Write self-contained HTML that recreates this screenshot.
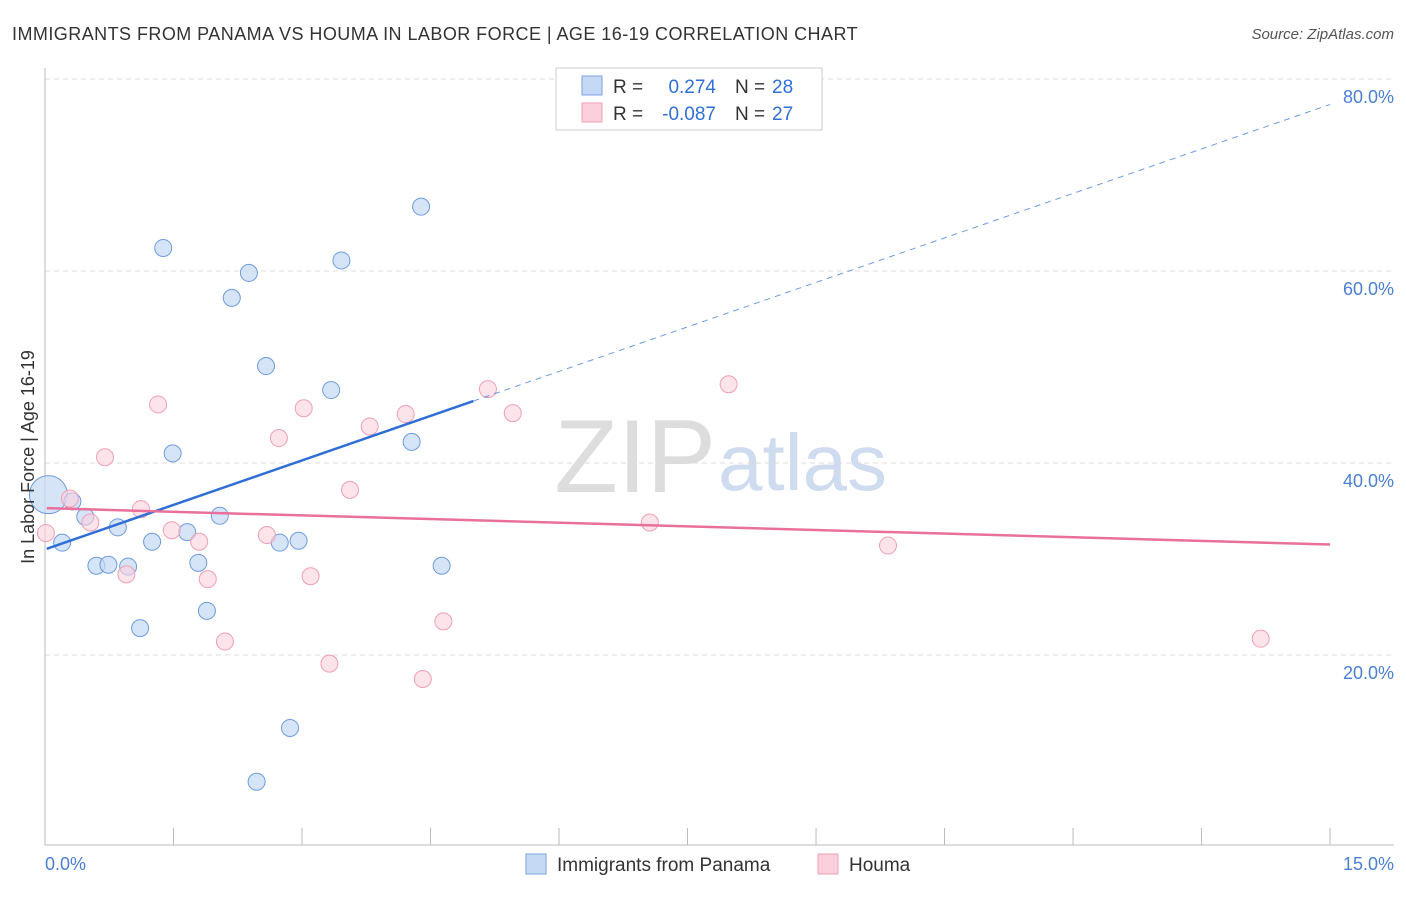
<!DOCTYPE html>
<html><head><meta charset="utf-8"><style>
body{margin:0;background:#fff;font-family:"Liberation Sans",sans-serif;}
svg text{font-family:"Liberation Sans",sans-serif;}
</style></head><body>
<svg id="c" width="1406" height="892" xmlns="http://www.w3.org/2000/svg">
<text x="12" y="40" font-size="18" letter-spacing="0.45" fill="#333">IMMIGRANTS FROM PANAMA VS HOUMA IN LABOR FORCE | AGE 16-19 CORRELATION CHART</text>
<text x="1394" y="39" font-size="15" fill="#555" text-anchor="end" font-style="italic">Source: ZipAtlas.com</text>
<text x="716" y="492" font-size="104" fill="#ddd" text-anchor="end" font-family="Liberation Serif">ZIP</text>
<text x="718" y="490" font-size="80" fill="#cfdcf0">atlas</text>
<g id="grid"></g><g id="axes"></g><g id="pts"></g><g id="lines"></g>
<text transform="translate(34,457) rotate(-90)" font-size="18" fill="#333" text-anchor="middle">In Labor Force | Age 16-19</text>
<text x="45" y="870" font-size="18" fill="#4a7fd4">0.0%</text>
<text x="1394" y="870" font-size="18" fill="#4a7fd4" text-anchor="end">15.0%</text>
<g>
<rect x="556" y="68" width="266" height="62" fill="#fff" stroke="#ccc"/>
<rect x="582" y="76" width="20" height="19" fill="#c5d9f5" stroke="#7aa3e0"/>
<rect x="582" y="103" width="20" height="19" fill="#fbd0dc" stroke="#eea0b6"/>
<text x="613" y="93" font-size="19" fill="#333">R =</text><text x="716" y="93" font-size="19" fill="#2f6fd6" text-anchor="end">0.274</text>
<text x="735" y="93" font-size="19" fill="#333">N =</text><text x="772" y="93" font-size="19" fill="#2f6fd6">28</text>
<text x="613" y="120" font-size="19" fill="#333">R =</text><text x="716" y="120" font-size="19" fill="#2f6fd6" text-anchor="end">-0.087</text>
<text x="735" y="120" font-size="19" fill="#333">N =</text><text x="772" y="120" font-size="19" fill="#2f6fd6">27</text>
</g>
<g><rect x="526" y="854" width="20" height="20" fill="#c5d9f5" stroke="#7aa3e0"/><text x="557" y="871" font-size="19" fill="#333">Immigrants from Panama</text></g>
<g><rect x="818" y="854" width="20" height="20" fill="#fbd0dc" stroke="#eea0b6"/><text x="849" y="871" font-size="19" fill="#333">Houma</text></g>
</svg>
<script>
const blueX=[0.04,0.2,0.32,0.47,0.6,0.74,0.85,0.97,1.11,1.25,1.38,1.49,1.66,1.79,1.89,2.04,2.18,2.38,2.47,2.58,2.74,2.86,2.96,3.34,3.46,4.28,4.39,4.63];
const blueY=[36.7,31.7,36.0,34.4,29.3,29.4,33.3,29.2,22.8,31.8,62.4,41.0,32.8,29.6,24.6,34.5,57.2,59.8,6.8,50.1,31.7,12.4,31.9,47.6,61.1,42.2,66.7,29.3];
const pinkX=[0.01,0.29,0.53,0.70,0.95,1.12,1.32,1.48,1.80,1.90,2.10,2.59,2.73,3.02,3.10,3.32,3.56,3.79,4.21,4.41,4.65,5.17,5.46,7.06,7.98,9.84,14.19];
const pinkY=[32.7,36.3,33.8,40.6,28.4,35.2,46.1,33.0,31.8,27.9,21.4,32.5,42.6,45.7,28.2,19.1,37.2,43.8,45.1,17.5,23.5,47.7,45.2,33.8,48.2,31.4,21.7];
const yTicks=[20,40,60,80];
const yTickLabels=["20.0%","40.0%","60.0%","80.0%"];
const blueTrend=[31.0,3.09];
const pinkTrend=[35.3,-0.253];
const NS="http://www.w3.org/2000/svg";
const X=v=>45+v*85.67, Y=v=>847-v*9.6;
function mk(p,t,a){const e=document.createElementNS(NS,t);for(const k in a)e.setAttribute(k,a[k]);document.getElementById(p).appendChild(e);return e;}
yTicks.forEach((t,i)=>{
 const l=mk('grid','line',{x1:45,x2:1394,y1:Y(t),y2:Y(t),stroke:'#ddd','stroke-dasharray':'5,4'});
 
 
 const tx=mk('grid','text',{x:1394,y:Y(t)+24,'font-size':18,fill:'#4a7fd4','text-anchor':'end'});
 tx.textContent=yTickLabels[i];
 
 
});
const ax=mk('axes','path',{d:'M45,68V845H1394',stroke:'#bbb',fill:'none'});


for(let i=1;i<=10;i++){const t=mk('axes','line',{x1:X(i*1.5),x2:X(i*1.5),y1:828,y2:845,stroke:'#bbb'});
 
 }
blueX.forEach((x,i)=>{const c=mk('pts','circle',{cx:X(x),cy:Y(blueY[i]),r:i==0?19:8.5,fill:'#c5d9f5','fill-opacity':0.7,stroke:'#6f9be0','stroke-width':1});
 
 });
pinkX.forEach((x,i)=>{const c=mk('pts','circle',{cx:X(x),cy:Y(pinkY[i]),r:8.5,fill:'#fbd0dc','fill-opacity':0.6,stroke:'#eea0b6','stroke-width':1});
 
 });
const bx1=0.02,bx2=5.0,bx3=15;
const b1=mk('lines','line',{x1:X(bx1),y1:Y(blueTrend[0]+blueTrend[1]*bx1),x2:X(bx2),y2:Y(blueTrend[0]+blueTrend[1]*bx2),stroke:'#2f6fd6','stroke-width':2.5});


const b2=mk('lines','line',{x1:X(bx2),y1:Y(blueTrend[0]+blueTrend[1]*bx2),x2:X(bx3),y2:Y(blueTrend[0]+blueTrend[1]*bx3),stroke:'#2f6fd6','stroke-width':1,'stroke-dasharray':'6,5','stroke-opacity':0.7});


const p1=mk('lines','line',{x1:X(bx1),y1:Y(pinkTrend[0]+pinkTrend[1]*bx1),x2:X(bx3),y2:Y(pinkTrend[0]+pinkTrend[1]*bx3),stroke:'#e8709a','stroke-width':2.5});


</script>
</body></html>
